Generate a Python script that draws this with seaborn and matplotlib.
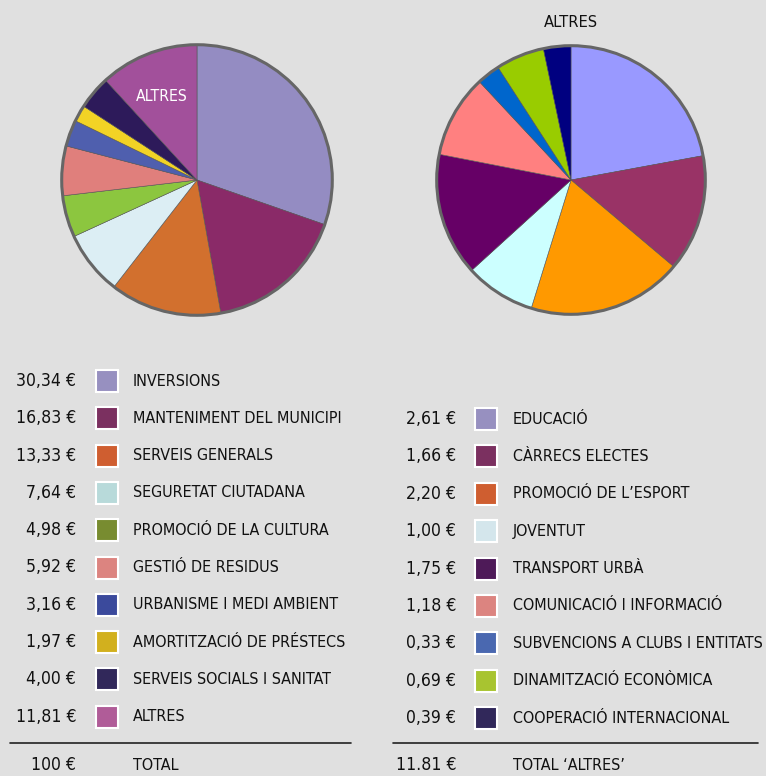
import matplotlib
matplotlib.use("Agg")
import matplotlib.pyplot as plt
import seaborn as sns
import numpy as np
from matplotlib.patches import Rectangle, Circle
from matplotlib import font_manager as fm

sns.set_style("white")

# pick the narrowest available sans family
names = {f.name for f in fm.fontManager.ttflist}
cond = [f for f in fm.fontManager.ttflist
        if (str(f.stretch) in ('condensed', 'semi-condensed', 'extra-condensed', 'ultra-condensed')
            or 'Narrow' in f.name or 'Condensed' in f.name)
        and 'Mono' not in f.name and 'Serif' not in f.name and f.weight in (400, 'normal', 'regular')
        and f.style == 'normal']
FP = None
if cond:
    FP = fm.FontProperties(fname=cond[0].fname)
else:
    for fam in ['Roboto', 'Liberation Sans', 'Noto Sans', 'DejaVu Sans']:
        if fam in names:
            FP = fm.FontProperties(family=fam)
            break

BG = '#E0E0E0'

# ---- data ----
left_labels = ["INVERSIONS", "MANTENIMENT DEL MUNICIPI", "SERVEIS GENERALS",
               "SEGURETAT CIUTADANA", "PROMOCIÓ DE LA CULTURA", "GESTIÓ DE RESIDUS",
               "URBANISME I MEDI AMBIENT", "AMORTITZACIÓ DE PRÉSTECS",
               "SERVEIS SOCIALS I SANITAT", "ALTRES"]
left_values = [30.34, 16.83, 13.33, 7.64, 4.98, 5.92, 3.16, 1.97, 4.00, 11.81]
left_value_text = ["30,34 €", "16,83 €", "13,33 €", "7,64 €", "4,98 €", "5,92 €",
                   "3,16 €", "1,97 €", "4,00 €", "11,81 €"]
left_pie_colors = ["#948CC2", "#8A2A68", "#D2702E", "#DCEEF4", "#8CC63F",
                   "#E07F7C", "#4F5FAE", "#F2D325", "#2D1A5A", "#A2509B"]
left_legend_colors = ["#9790C0", "#7B3060", "#CF5E30", "#B8DADA", "#788C30",
                      "#DC8480", "#3B4A9C", "#D2B01E", "#31285A", "#B05C98"]
left_total = ["100 €", "TOTAL"]

right_labels = ["EDUCACIÓ", "CÀRRECS ELECTES", "PROMOCIÓ DE L’ESPORT", "JOVENTUT",
                "TRANSPORT URBÀ", "COMUNICACIÓ I INFORMACIÓ",
                "SUBVENCIONS A CLUBS I ENTITATS", "DINAMITZACIÓ ECONÒMICA",
                "COOPERACIÓ INTERNACIONAL"]
right_values = [2.61, 1.66, 2.20, 1.00, 1.75, 1.18, 0.33, 0.69, 0.39]
right_value_text = ["2,61 €", "1,66 €", "2,20 €", "1,00 €", "1,75 €", "1,18 €",
                    "0,33 €", "0,69 €", "0,39 €"]
right_pie_colors = ["#9999FF", "#993366", "#FF9900", "#CCFFFF", "#660066",
                    "#FF8080", "#0066CC", "#99CC00", "#000080"]
right_legend_colors = ["#9790C0", "#7B3060", "#CF5E30", "#D4E6EC", "#4E1A58",
                       "#DC8480", "#4A68B0", "#A8C430", "#31285A"]
right_total = ["11.81 €", "TOTAL ‘ALTRES’"]

W, H = 766, 776
fig = plt.figure(figsize=(W / 100, H / 100), dpi=100)
fig.patch.set_facecolor(BG)
renderer = fig.canvas.get_renderer()


def fitted_size(text, target_px, max_size):
    t = fig.text(0, 0, text, fontproperties=FP, fontsize=10)
    w = t.get_window_extent(renderer=renderer).width
    t.remove()
    return min(max_size, 10 * target_px / w)


FS = min(fitted_size("MANTENIMENT DEL MUNICIPI", 217, 16.5),
         fitted_size("SUBVENCIONS A CLUBS I ENTITATS", 250, 16.5))
FSV = min(FS * 1.1, fitted_size("30,34 €", 64, 17))


def txt(ax, x, y, s, size=None, **kw):
    p = FP.copy()
    p.set_size(size or FS)
    return ax.text(x, y, s, fontproperties=p, **kw)


def pie_axes(cx, cy, r):
    ax = fig.add_axes([(cx - r) / W, 1 - (cy + r) / H, 2 * r / W, 2 * r / H])
    ax.set_facecolor(BG)
    ax.axis('off')
    return ax


# left pie
axl = pie_axes(197, 180, 138)
wedges, _ = axl.pie(left_values, colors=left_pie_colors, startangle=90,
                    counterclock=False, radius=1,
                    wedgeprops=dict(linewidth=0.4, edgecolor='#555555'))
axl.add_patch(Circle((0, 0), 1, fill=False, edgecolor='#666666', lw=2.2))
axl.set_xlim(-1.02, 1.02); axl.set_ylim(-1.02, 1.02); axl.set_aspect('equal')
w = wedges[-1]
mid = np.deg2rad((w.theta1 + w.theta2) / 2)
txt(axl, 0.72 * np.cos(mid), 0.66 * np.sin(mid), "ALTRES",
    size=fitted_size("ALTRES", 52, 18), color='white', ha='center', va='center')

# right pie
axr = pie_axes(571, 180, 137)
axr.pie(right_values, colors=right_pie_colors, startangle=90,
        counterclock=False, radius=1,
        wedgeprops=dict(linewidth=0.4, edgecolor='#555555'))
axr.add_patch(Circle((0, 0), 1, fill=False, edgecolor='#666666', lw=2.2))
axr.set_xlim(-1.02, 1.02); axr.set_ylim(-1.02, 1.02); axr.set_aspect('equal')
txt(axr, 0, 1.12, "ALTRES", size=fitted_size("ALTRES", 54, 18),
    color='#111111', ha='center', va='bottom')

# legends
lg = fig.add_axes([0, 0, 1, 1])
lg.set_xlim(0, W); lg.set_ylim(H, 0); lg.axis('off')
lg.patch.set_alpha(0)


def legend_block(vals, labels, colors, y0, step, xv, xs, xl, total, line_x, line_y, total_y):
    for i, (v, lab, c) in enumerate(zip(vals, labels, colors)):
        y = y0 + i * step
        txt(lg, xv, y, v, size=FSV, ha='right', va='center', color='#111111')
        lg.add_patch(Rectangle((xs, y - 11), 22, 22, facecolor=c, edgecolor='white', lw=1.5))
        txt(lg, xl, y, lab, ha='left', va='center', color='#111111')
    lg.plot(line_x, [line_y, line_y], color='#222222', lw=1.2)
    txt(lg, xv, total_y, total[0], size=FSV, ha='right', va='center', color='#111111')
    txt(lg, xl, total_y, total[1], ha='left', va='center', color='#111111')


legend_block(left_value_text, left_labels, left_legend_colors, 381, 37.3,
             76, 96, 133, left_total, [10, 351], 743, 765)
legend_block(right_value_text, right_labels, right_legend_colors, 419, 37.4,
             456, 475, 513, right_total, [393, 758], 743, 765)

fig.savefig("out.png", dpi=100, facecolor=BG)
